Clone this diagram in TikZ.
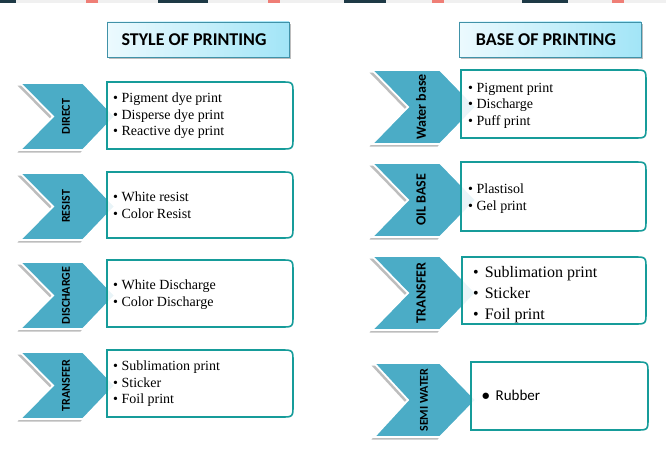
\documentclass[tikz,border=0pt]{standalone}
\usepackage{fontspec}
\setmainfont{Liberation Serif}
\newfontfamily\calfont{Carlito}
\usetikzlibrary{positioning}
\definecolor{prtAqua}{HTML}{4BACC6}
\definecolor{prtTeal}{HTML}{169C9A}
\definecolor{prtSky}{HTML}{A2E5F7}
\definecolor{prtIce}{HTML}{ECFAFE}
\definecolor{prtShade}{HTML}{BDBDBD}
\definecolor{prtInk}{HTML}{1E3A46}
\definecolor{prtRose}{HTML}{EF7E76}

\begin{document}
\begin{tikzpicture}[x=1pt,y=-1pt,line join=miter]
\path[fill=white] (0,0) rectangle (666,452);
% strip of the photo along the top edge
\path[fill=black!6] (0,0) rectangle (666,3.5);
\path[fill=prtInk] (0,0) rectangle (16,3.5); \path[fill=prtInk] (158,0) rectangle (208,3.5); \path[fill=prtInk] (344,0) rectangle (386,3.5); \path[fill=prtInk] (522,0) rectangle (568,3.5);
\path[fill=prtRose] (86,0) rectangle (98,3.5); \path[fill=prtRose] (268,0) rectangle (280,3.5); \path[fill=prtRose] (432,0) rectangle (444,3.5); \path[fill=prtRose] (612,0) rectangle (624,3.5);
\tikzset{head/.style={draw=prtAqua!85!black,line width=0.8pt,left color=prtIce,right color=prtSky,preaction={fill=prtShade,transform canvas={shift={(2,2.5)}}}},chev/.style={fill=prtAqua,draw=white,line width=1.8pt,preaction={fill=prtShade,transform canvas={shift={(-2.5,2.5)}}}},card/.style={draw=prtTeal,fill=white,fill opacity=0.88,line width=1.6pt},item/.style={anchor=west,align=left,inner sep=0pt,font=\fontsize{14}{16.5}\selectfont},tag/.style={rotate=90,inner sep=0pt,font=\calfont\bfseries\fontsize{12}{12}\selectfont},bigtag/.style={tag,font=\calfont\bfseries\fontsize{14}{14}\selectfont}}
% headings
\path[head] (107,22) rectangle (289,57); \node[font=\calfont\bfseries\fontsize{18}{18}\selectfont] (styleHead) at (194,40) {STYLE OF PRINTING};
\path[head] (459,22) rectangle (641,57); \node[font=\calfont\bfseries\fontsize{18}{18}\selectfont] (baseHead) at (546,40) {BASE OF PRINTING};
% style of printing
\path[chev] (20,83) -- (83,83) -- (115,116.5) -- (83,150) -- (20,150) -- (53,116.5) -- cycle;
\path[card] (107,82) -- (281,82) .. controls (293,82) .. (293,94) -- (293,137) .. controls (293,149) .. (281,149) -- (107,149) -- cycle;
\node[tag] (direct) at (66,116.5) {DIRECT};
\node[item] (directList) at (113,116) {• Pigment dye print\\• Disperse dye print\\• Reactive dye print};
\path[chev] (20,173) -- (83,173) -- (115,206.5) -- (83,240) -- (20,240) -- (53,206.5) -- cycle;
\path[card] (107,172) -- (281,172) .. controls (293,172) .. (293,184) -- (293,226) .. controls (293,238) .. (281,238) -- (107,238) -- cycle;
\node[tag] (resist) at (66,206.5) {RESIST};
\node[item] (resistList) at (113,205) {• White resist\\• Color Resist};
\path[chev] (20,262) -- (83,262) -- (115,295.5) -- (83,329) -- (20,329) -- (53,295.5) -- cycle;
\path[card] (107,260) -- (281,260) .. controls (293,260) .. (293,272) -- (293,315) .. controls (293,327) .. (281,327) -- (107,327) -- cycle;
\node[tag] (discharge) at (66,295.5) {DISCHARGE};
\node[item] (dischargeList) at (113,294.5) {• White Discharge\\• Color Discharge};
\path[chev] (20,352) -- (83,352) -- (115,385.5) -- (83,419) -- (20,419) -- (53,385.5) -- cycle;
\path[card] (107,350) -- (281,350) .. controls (293,350) .. (293,362) -- (293,405) .. controls (293,417) .. (281,417) -- (107,417) -- cycle;
\node[tag] (transferL) at (66,385.5) {TRANSFER};
\node[item] (transferLList) at (113,384) {• Sublimation print\\• Sticker\\• Foil print};
% base of printing
\path[chev] (372,70) -- (440,70) -- (476,107) -- (440,144) -- (372,144) -- (408,107) -- cycle;
\path[card] (461,70) -- (634,70) .. controls (646,70) .. (646,82) -- (646,126) .. controls (646,138) .. (634,138) -- (461,138) -- cycle;
\node[bigtag] (water) at (421,107) {Water base};
\node[item] (waterList) at (468,105.5) {• Pigment print\\• Discharge\\• Puff print};
\path[chev] (372,163) -- (440,163) -- (476,200) -- (440,237) -- (372,237) -- (408,200) -- cycle;
\path[card] (461,162) -- (634,162) .. controls (646,162) .. (646,174) -- (646,219) .. controls (646,231) .. (634,231) -- (461,231) -- cycle;
\node[bigtag] (oil) at (421,200) {OIL BASE};
\node[item] (oilList) at (468,198.5) {• Plastisol\\• Gel print};
\path[chev] (372,256) -- (440,256) -- (476,293) -- (440,330) -- (372,330) -- (408,293) -- cycle;
\path[card] (462,257) -- (634,257) .. controls (646,257) .. (646,269) -- (646,312) .. controls (646,324) .. (634,324) -- (462,324) -- cycle;
\node[bigtag] (transferR) at (421,293) {TRANSFER};
\node[item,font=\fontsize{16}{21}\selectfont] (transferRList) at (473,294.5) {•\hskip6pt Sublimation print\\•\hskip6pt Sticker\\•\hskip6pt Foil print};
\path[chev] (374,363) -- (440,363) -- (476,400) -- (440,437) -- (374,437) -- (408,400) -- cycle;
\path[card] (471,362) -- (636,362) .. controls (648,362) .. (648,374) -- (648,418) .. controls (648,430) .. (636,430) -- (471,430) -- cycle;
\node[tag] (semi) at (424,400) {SEMI WATER};
\node[item,font=\calfont\fontsize{15}{18}\selectfont] (semiList) at (482,395) {\textbf{•}\hskip6pt Rubber};
\end{tikzpicture}
\end{document}
